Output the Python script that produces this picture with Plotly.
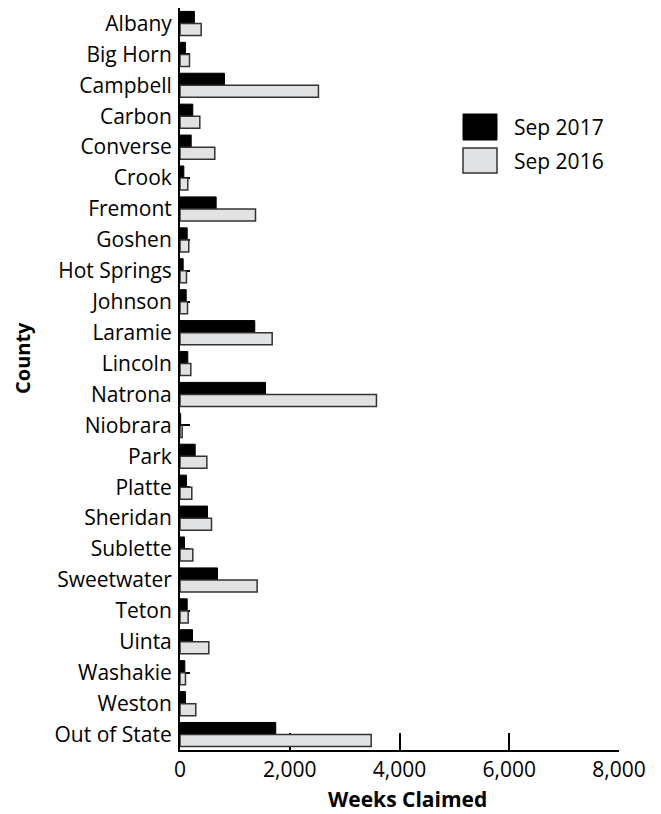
import plotly.graph_objects as go

counties = ["Albany", "Big Horn", "Campbell", "Carbon", "Converse", "Crook", "Fremont",
            "Goshen", "Hot Springs", "Johnson", "Laramie", "Lincoln", "Natrona", "Niobrara",
            "Park", "Platte", "Sheridan", "Sublette", "Sweetwater", "Teton", "Uinta",
            "Washakie", "Weston", "Out of State"]
sep_2017 = [262, 100, 810, 233, 204, 70, 659, 131, 58, 113, 1363, 142, 1558, 12,
            277, 118, 501, 82, 683, 131, 228, 88, 100, 1745]
sep_2016 = [386, 173, 2523, 361, 634, 142, 1376, 160, 118, 137, 1680, 197, 3580, 40,
            489, 215, 574, 233, 1406, 149, 525, 100, 288, 3484]
x_ticks = [0, 2000, 4000, 6000, 8000]
x_tick_labels = ["0", "2,000", "4,000", "6,000", "8,000"]

FONT = "Open Sans"

# layout geometry (figure pixels); page body adds an 8px margin
OFF = 8
W, H = 661 - OFF, 814 - OFF
ML, MR, MT, MB = 172, 42, 0, 64
PW, PH = W - ML - MR, H - MT - MB


def px(sx):
    return (sx - OFF - ML) / PW


def py(sy):
    return 1 - (sy - OFF - MT) / PH


fig = go.Figure()
fig.add_trace(go.Bar(y=counties, x=sep_2017, orientation="h", name="Sep 2017",
                     marker=dict(color="#000000", line=dict(color="#000000", width=1)),
                     showlegend=False))
fig.add_trace(go.Bar(y=counties, x=sep_2016, orientation="h", name="Sep 2016",
                     marker=dict(color="#e1e2e4", line=dict(color="#333333", width=1.5)),
                     showlegend=False))

fig.update_layout(
    width=W, height=H,
    margin=dict(l=ML, r=MR, t=MT, b=MB),
    paper_bgcolor="white", plot_bgcolor="white",
    barmode="group", bargap=0.22, bargroupgap=0.0,
    font=dict(family=FONT, size=21, color="#000"),
    xaxis=dict(range=[0, 8000], tickvals=x_ticks, ticktext=x_tick_labels,
               showgrid=False, zeroline=False, showline=True, linecolor="#000", linewidth=2,
               ticks="inside", ticklen=17, tickwidth=2, tickcolor="#000",
               layer="below traces",
               tickfont=dict(size=21, family=FONT)),
    yaxis=dict(autorange="reversed", showgrid=False, zeroline=False, showline=True,
               linecolor="#000", linewidth=2, ticks="inside", ticklen=10, tickwidth=1.5,
               tickcolor="#000", layer="below traces", ticklabelstandoff=2,
               tickfont=dict(size=21, family=FONT)),
    annotations=[
        dict(text="<b>Weeks Claimed</b>", xref="paper", yref="paper", x=px(407), y=py(799),
             showarrow=False, font=dict(size=21, family=FONT),
             xanchor="center", yanchor="middle"),
        dict(text="<b>County</b>", xref="paper", yref="paper", x=px(22), y=py(358),
             textangle=-90, showarrow=False, font=dict(size=20, family=FONT),
             xanchor="center", yanchor="middle"),
        dict(text="Sep 2017", xref="paper", yref="paper", x=px(512),
             y=py(127), xanchor="left", yanchor="middle", showarrow=False,
             font=dict(size=21, family=FONT)),
        dict(text="Sep 2016", xref="paper", yref="paper", x=px(512),
             y=py(161), xanchor="left", yanchor="middle", showarrow=False,
             font=dict(size=21, family=FONT)),
    ],
    shapes=[
        dict(type="rect", xref="paper", yref="paper",
             x0=px(463), x1=px(497), y0=py(140), y1=py(114),
             fillcolor="#000", line=dict(color="#000", width=1)),
        dict(type="rect", xref="paper", yref="paper",
             x0=px(463), x1=px(497), y0=py(173), y1=py(148),
             fillcolor="#e1e2e4", line=dict(color="#333", width=1.5)),
    ],
)

fig.write_html("out.html")
